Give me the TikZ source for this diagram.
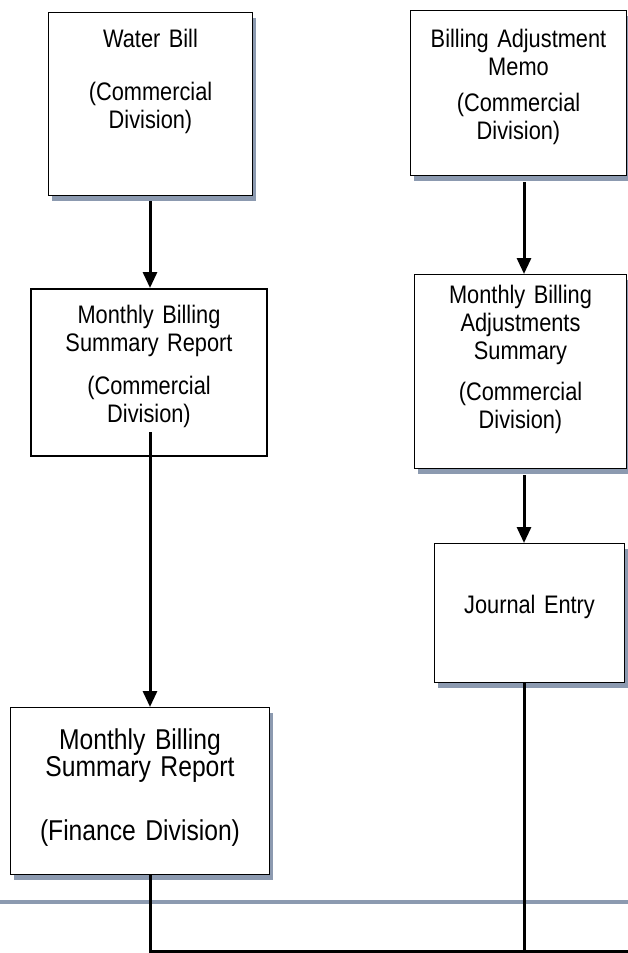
\documentclass[tikz,border=0pt]{standalone}
\usepackage{fontspec}
\setmainfont{Liberation Sans}[FakeStretch=0.86]
\usetikzlibrary{arrows.meta,shadows,calc}
\definecolor{shadowblue}{RGB}{140,154,176}
\newcommand{\boxfont}[2]{\fontsize{#1}{#2}\selectfont\spaceskip=0.22em\relax}
\begin{document}
\begin{tikzpicture}[x=0.75pt, y=-0.75pt, line join=miter, >={Triangle[width=10.5pt,length=12pt]},
	box/.style={draw, line width=0.75pt, fill=white, anchor=north west, align=center, inner sep=0pt, font=\boxfont{19}{21}},
	doc/.style={box, drop shadow={shadow xshift=2.6pt, shadow yshift=-3.75pt, fill=shadowblue, opacity=1}},
	link/.style={line width=2.25pt},
	rule/.style={draw=shadowblue, line width=3pt}]
	\useasboundingbox (0,0) rectangle (628,953);
	% left column
	\node[doc, text width=153pt, text height=26.25pt, text depth=111pt] (bill) at (48,12) {Water Bill\\[18.75pt](Commercial\\Division)};
	\node[box, line width=1.5pt, text width=177pt, text height=25.5pt, text depth=99.75pt] (mbsr) at (30,288) {Monthly Billing\\Summary Report\\[11.25pt](Commercial\\Division)};
	\node[doc, text width=194.25pt, text height=31.5pt, text depth=93.75pt, font=\boxfont{21.5}{20.25}] (fin) at (10,707) {Monthly Billing\\Summary Report\\[27.75pt](Finance Division)};
	% right column
	\node[doc, text width=162pt, text height=27.75pt, text depth=96pt] (memo) at (410,10) {Billing Adjustment\\Memo\\[6pt](Commercial\\Division)};
	\node[doc, text width=159pt, text height=21.75pt, text depth=123.75pt] (adj) at (414,274) {Monthly Billing\\Adjustments\\Summary\\[9.75pt](Commercial\\Division)};
	\node[doc, text width=142.5pt, text height=52.5pt, text depth=51.75pt] (jrnl) at (434,543) {Journal Entry};
	\draw[rule] (0,902) -- (628,902);
	\coordinate (lcol) at (150,0);
	\coordinate (rcol) at (524,0);
	\coordinate (base) at (628,951);
	\draw[link,->] ($(bill.south -| lcol)+(0,5)$) -- (mbsr.north -| lcol);
	\draw[link,->] ($(mbsr.south -| lcol)+(0,-25)$) -- (fin.north -| lcol);
	\draw[link,->] ($(memo.south -| rcol)+(0,6)$) -- (adj.north -| rcol);
	\draw[link,->] ($(adj.south -| rcol)+(0,6)$) -- (jrnl.north -| rcol);
	\draw[link] (jrnl.south -| rcol) -- (rcol |- base);
	\draw[link] (fin.south -| lcol) -- (lcol |- base) -- (base);
\end{tikzpicture}
\end{document}
